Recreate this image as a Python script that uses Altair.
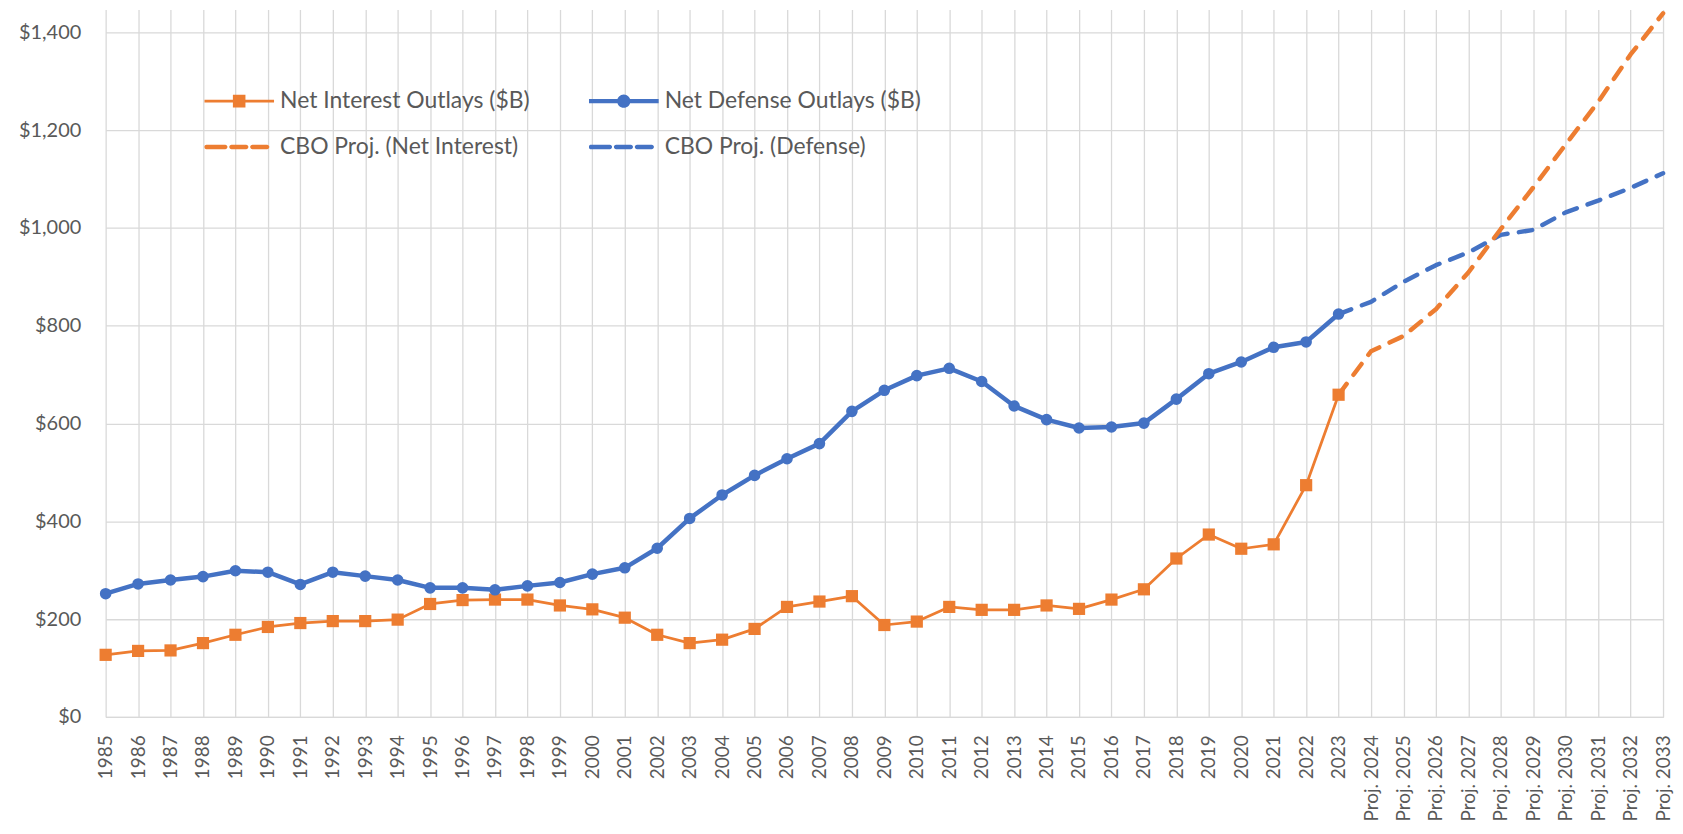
import altair as alt
import pandas as pd

# ---------------- data ----------------
years_hist = [str(y) for y in range(1985, 2024)]
years_proj = ["Proj. " + str(y) for y in range(2024, 2034)]
years_all = years_hist + years_proj

net_interest = [127, 135, 136, 151, 168, 184, 192, 196, 196, 199,
                231, 239, 240, 240, 228, 220, 203, 168, 151, 158,
                180, 225, 236, 247, 188, 195, 225, 219, 219, 228,
                221, 240, 261, 324, 373, 344, 353, 474, 659]
net_defense = [252, 272, 280, 287, 299, 296, 271, 296, 288, 280,
               264, 264, 260, 268, 275, 292, 305, 345, 406, 454,
               494, 528, 559, 625, 668, 698, 713, 686, 636, 608,
               591, 593, 601, 650, 702, 726, 756, 767, 824]
cbo_interest = [748, 779, 834, 909, 998, 1083, 1171, 1258, 1355, 1439]
cbo_defense = [849, 890, 924, 950, 986, 996, 1032, 1056, 1082, 1112]

series_names = ["Net Interest Outlays ($B)", "Net Defense Outlays ($B)",
                "CBO Proj. (Net Interest)", "CBO Proj. (Defense)"]
y_ticks = [0, 200, 400, 600, 800, 1000, 1200, 1400]

ORANGE = "#ED7D31"
BLUE = "#4472C4"
GRID = "#D9D9D9"
TEXT = "#595959"
FONT = "Lato"

rows = []
for i, (yr, v) in enumerate(zip(years_hist, net_interest)):
    rows.append({"year": yr, "idx": i, "value": v, "series": series_names[0]})
for i, (yr, v) in enumerate(zip(years_hist, net_defense)):
    rows.append({"year": yr, "idx": i, "value": v, "series": series_names[1]})
# projections start from the last actual point
proj_years = [years_hist[-1]] + years_proj
for i, (yr, v) in enumerate(zip(proj_years, [net_interest[-1]] + cbo_interest)):
    rows.append({"year": yr, "idx": 38 + i, "value": v, "series": series_names[2]})
for i, (yr, v) in enumerate(zip(proj_years, [net_defense[-1]] + cbo_defense)):
    rows.append({"year": yr, "idx": 38 + i, "value": v, "series": series_names[3]})
df = pd.DataFrame(rows)

# ---------------- legend symbol shapes (unit square -1..1) ----------------
def bar(x1, x2, h):
    return f"M{x1},{-h}H{x2}V{h}H{x1}Z"

def round_dash(x1, x2, h):
    return (f"M{x1},{-h}H{x2}A{h},{h},0,0,1,{x2},{h}H{x1}A{h},{h},0,0,1,{x1},{-h}Z")

sym_ni = bar(-1, 1, 0.04) + "M-0.18,-0.18H0.18V0.18H-0.18Z"
r = 0.19
sym_def = bar(-1, 1, 0.064) + f"M{-r},0A{r},{r},0,1,1,{r},0A{r},{r},0,1,1,{-r},0Z"
h = 0.064
sym_dash = (round_dash(-0.94, -0.4, h) + round_dash(-0.22, 0.2, h) + round_dash(0.38, 0.8, h))

# legend fills column by column: order so that rows read NI | Defense, CBO NI | CBO Defense
legend_order = [series_names[0], series_names[2], series_names[1], series_names[3]]
legend_colors = [ORANGE, ORANGE, BLUE, BLUE]
legend_shapes = [sym_ni, sym_dash, sym_def, sym_dash]

# ---------------- encodings ----------------
x_enc = alt.X("year:N",
              scale=alt.Scale(type="point", domain=years_all, padding=0),
              axis=alt.Axis(title=None, labelAngle=-90, labelFont=FONT, labelFontSize=19,
                            labelColor=TEXT, labelPadding=18, ticks=False,
                            domainColor=GRID, domainWidth=1.3, grid=True,
                            gridColor=GRID, gridWidth=1.3, labelOverlap=False))
y_enc = alt.Y("value:Q",
              scale=alt.Scale(domain=[0, 1447], nice=False, zero=True),
              axis=alt.Axis(title=None, values=y_ticks, format="$,.0f", labelFont=FONT,
                            labelFontSize=20, labelColor=TEXT, labelPadding=25,
                            ticks=False, domain=False, grid=True, gridColor=GRID,
                            gridWidth=1.3))
order_enc = alt.Order("idx:Q")

base = alt.Chart(df)

ni_line = base.transform_filter(alt.datum.series == series_names[0]).mark_line(
    color=ORANGE, strokeWidth=2.75, strokeJoin="round").encode(x=x_enc, y=y_enc, order=order_enc)
def_line = base.transform_filter(alt.datum.series == series_names[1]).mark_line(
    color=BLUE, strokeWidth=4.5, strokeJoin="round").encode(x=x_enc, y=y_enc, order=order_enc)
def_proj = base.transform_filter(alt.datum.series == series_names[3]).mark_line(
    color=BLUE, strokeWidth=4.5, strokeDash=[13.5, 11.5], strokeCap="round",
    strokeJoin="round").encode(x=x_enc, y=y_enc, order=order_enc)
ni_proj = base.transform_filter(alt.datum.series == series_names[2]).mark_line(
    color=ORANGE, strokeWidth=4.5, strokeDash=[13.5, 11.5], strokeCap="round",
    strokeJoin="round").encode(x=x_enc, y=y_enc, order=order_enc)
ni_pts = base.transform_filter(alt.datum.series == series_names[0]).mark_point(
    shape="square", filled=True, size=150, color=ORANGE, opacity=1).encode(x=x_enc, y=y_enc)
def_pts = base.transform_filter(alt.datum.series == series_names[1]).mark_circle(
    size=135, color=BLUE, opacity=1).encode(x=x_enc, y=y_enc)

leg = alt.Legend(title=None, orient="none", legendX=99, legendY=80, columns=2,
                 symbolSize=4900, symbolStrokeWidth=0, symbolOpacity=1,
                 labelFont=FONT, labelFontSize=23, labelColor=TEXT, labelOffset=6,
                 columnPadding=59, rowPadding=22, clipHeight=24, gridAlign="each",
                 padding=0, labelLimit=500)
legend_layer = base.transform_filter("false").mark_point(filled=True, opacity=1).encode(
    x=x_enc, y=y_enc,
    color=alt.Color("series:N", scale=alt.Scale(domain=legend_order, range=legend_colors),
                    legend=leg),
    shape=alt.Shape("series:N", scale=alt.Scale(domain=legend_order, range=legend_shapes),
                    legend=leg))

chart = alt.layer(ni_line, def_line, def_proj, ni_proj, ni_pts, def_pts, legend_layer).properties(
    width=1563, height=710,
    padding={"left": 98, "top": 0, "right": 12, "bottom": 108},
    autosize=alt.AutoSizeParams(type="none"),
    background="white",
).configure_view(stroke=None)

chart.save("out.html", embed_options={"renderer": "svg", "actions": False})
